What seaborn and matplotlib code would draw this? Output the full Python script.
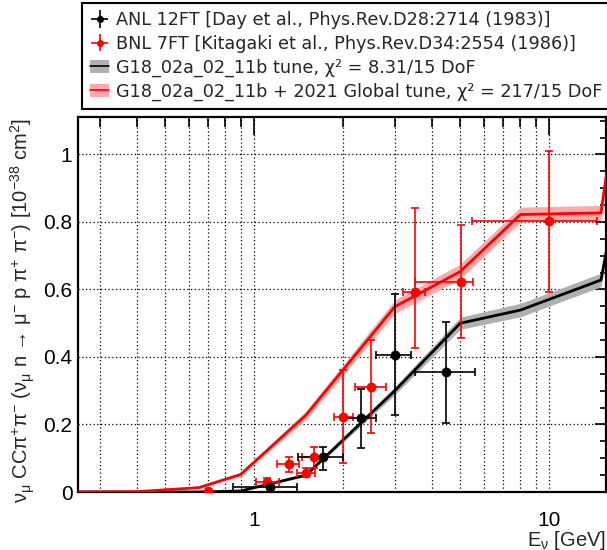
import numpy as np
import pandas as pd
import matplotlib
matplotlib.use("Agg")
import matplotlib.pyplot as plt
import seaborn as sns
from matplotlib.lines import Line2D
from matplotlib.patches import Patch
from matplotlib.ticker import FixedLocator, FixedFormatter, NullFormatter

# ---------------- data ----------------
# ANL 12FT
anl_E = [1.13, 1.71, 2.30, 3.01, 4.48]
anl_E_lo = [0.85, 1.41, 2.00, 2.60, 3.50]
anl_E_hi = [1.40, 2.00, 2.60, 3.40, 5.60]
anl_xs = [0.016, 0.103, 0.218, 0.406, 0.355]
anl_xs_lo = [0.008, 0.065, 0.131, 0.228, 0.204]
anl_xs_hi = [0.024, 0.134, 0.304, 0.587, 0.505]

# BNL 7FT
bnl_E = [0.70, 1.11, 1.31, 1.50, 1.60, 2.01, 2.50, 3.51, 5.02, 10.0]
bnl_E_lo = [0.70, 1.016, 1.20, 1.40, 1.45, 1.86, 2.20, 3.20, 3.51, 5.50]
bnl_E_hi = [0.70, 1.215, 1.42, 1.61, 1.75, 2.17, 2.80, 3.80, 5.54, 14.5]
bnl_xs = [0.004, 0.031, 0.082, 0.057, 0.103, 0.223, 0.312, 0.593, 0.623, 0.804]
bnl_xs_lo = [0.004, 0.022, 0.060, 0.045, 0.070, 0.087, 0.174, 0.426, 0.455, 0.593]
bnl_xs_hi = [0.004, 0.040, 0.105, 0.071, 0.132, 0.361, 0.450, 0.841, 0.790, 1.011]

# model curves
model_E = [0.25, 0.40, 0.65, 0.90, 1.50, 3.00, 5.00, 8.00, 15.0, 16.0]
tune_xs = [0.0, 0.0, 0.0, 0.003, 0.050, 0.300, 0.500, 0.539, 0.628, 0.760]
tune_err = [0.0, 0.0, 0.0, 0.001, 0.004, 0.012, 0.018, 0.020, 0.020, 0.025]
glob_xs = [0.0, 0.001, 0.013, 0.052, 0.228, 0.549, 0.653, 0.822, 0.827, 1.000]
glob_err = [0.0, 0.0, 0.002, 0.005, 0.012, 0.020, 0.022, 0.022, 0.022, 0.030]

labels = [
    "ANL 12FT [Day et al., Phys.Rev.D28:2714 (1983)]",
    "BNL 7FT [Kitagaki et al., Phys.Rev.D34:2554 (1986)]",
    "G18_02a_02_11b tune, χ² = 8.31/15 DoF",
    "G18_02a_02_11b + 2021 Global tune, χ² = 217/15 DoF",
]
ylabel = ("ν$_{μ}$ CCπ$^{+}$π$^{-}$ (ν$_{μ}$ n → μ$^{-}$ p π$^{+}$ π$^{-}$) "
          "[10$^{-38}$ cm$^{2}$]")

# ---------------- style ----------------
sns.set_theme(style="white")
plt.rcParams["font.family"] = ["Liberation Sans", "DejaVu Sans"]
plt.rcParams["mathtext.default"] = "regular"

W, H = 607, 550
fig = plt.figure(figsize=(W / 100, H / 100), dpi=100)
ax = fig.add_axes([78 / W, 1 - 492 / H, (606 - 78) / W, (492 - 117) / H])

model = pd.DataFrame({"E": model_E, "tune": tune_xs, "tune_err": tune_err,
                      "glob": glob_xs, "glob_err": glob_err})

# bands
ax.fill_between(model["E"], model["tune"] - model["tune_err"],
                model["tune"] + model["tune_err"], color="#b0b0b0", lw=0, zorder=2)
ax.fill_between(model["E"], model["glob"] - model["glob_err"],
                model["glob"] + model["glob_err"], color="#ffaaaa", lw=0, zorder=2)
sns.lineplot(data=model, x="E", y="tune", color="black", lw=2, ax=ax,
             estimator=None, sort=False, zorder=3)
sns.lineplot(data=model, x="E", y="glob", color="red", lw=2, ax=ax,
             estimator=None, sort=False, zorder=3)

def draw_points(E, Elo, Ehi, y, ylo, yhi, color):
    E = np.asarray(E); y = np.asarray(y)
    xerr = [E - np.asarray(Elo), np.asarray(Ehi) - E]
    yerr = [y - np.asarray(ylo), np.asarray(yhi) - y]
    ax.errorbar(E, y, xerr=xerr, yerr=yerr, fmt="none", ecolor=color,
                elinewidth=1.2, capsize=3, capthick=1.2, zorder=4)
    sns.scatterplot(x=E, y=y, color=color, s=50, edgecolor=color,
                    linewidth=0, ax=ax, zorder=5)

draw_points(bnl_E, bnl_E_lo, bnl_E_hi, bnl_xs, bnl_xs_lo, bnl_xs_hi, "red")
draw_points(anl_E, anl_E_lo, anl_E_hi, anl_xs, anl_xs_lo, anl_xs_hi, "black")

# axes
ax.set_xscale("log")
ax.set_xlim(0.253, 15.6)
ax.set_ylim(0, 1.111)
for s in ax.spines.values():
    s.set_color("black")
    s.set_linewidth(1.6)

ax.xaxis.set_major_locator(FixedLocator([1, 10]))
ax.xaxis.set_major_formatter(FixedFormatter(["1", "10"]))
minor_x = [0.3, 0.4, 0.5, 0.6, 0.7, 0.8, 0.9, 2, 3, 4, 5, 6, 7, 8, 9]
ax.xaxis.set_minor_locator(FixedLocator(minor_x))
ax.xaxis.set_minor_formatter(NullFormatter())
ax.set_yticks([0, 0.2, 0.4, 0.6, 0.8, 1.0])
ax.set_yticklabels(["0", "0.2", "0.4", "0.6", "0.8", "1"])
ax.set_yticks(np.arange(0.05, 1.11, 0.05), minor=True)

ax.tick_params(axis="both", which="both", direction="in", top=True, right=True,
               colors="black", width=1.2)
ax.tick_params(axis="x", which="major", length=13, pad=14, labelsize=15)
ax.tick_params(axis="x", which="minor", length=7)
ax.tick_params(axis="y", which="major", length=8, pad=4, labelsize=15)
ax.tick_params(axis="y", which="minor", length=4.3)

ax.grid(True, which="both", axis="x", ls=(0, (1, 2)), color="black", lw=0.9)
ax.grid(True, which="major", axis="y", ls=(0, (1, 2)), color="black", lw=0.9)
ax.set_axisbelow(True)
ax.set_xlabel("")
ax.set_ylabel("")

fig.text(606 / W, 1 - 540 / H, "E$_{ν}$ [GeV]", ha="right", va="center",
         fontsize=14.5)
fig.text(23 / W, 1 - 310 / H, ylabel, rotation=90, ha="center", va="center",
         fontsize=14.5)

# legend
h_anl = ax.errorbar([], [], xerr=[], yerr=[], fmt="o", color="black",
                    ms=4, elinewidth=1.2, capsize=0)
h_bnl = ax.errorbar([], [], xerr=[], yerr=[], fmt="o", color="red",
                    ms=4, elinewidth=1.2, capsize=2)
h_tune = (Patch(facecolor="#b0b0b0", edgecolor="none"),
          Line2D([], [], color="black", lw=1.2))
h_glob = (Patch(facecolor="#ffaaaa", edgecolor="none"),
          Line2D([], [], color="red", lw=1.2))
leg = fig.legend([h_anl, h_bnl, h_tune, h_glob], labels,
                 loc="upper left", bbox_to_anchor=(82 / W, 1 - 108 / H, 0.9, 105 / H),
                 mode="expand", frameon=True, fancybox=False,
                 prop={"family": "DejaVu Sans", "size": 12.7},
                 handlelength=1.1, handletextpad=0.35, labelspacing=0.33,
                 borderpad=0.45, borderaxespad=0)
frame = leg.get_frame()
frame.set_edgecolor("black")
frame.set_linewidth(1.5)
frame.set_facecolor("white")
frame.set_alpha(1)

fig.savefig("out.png", dpi=100)
